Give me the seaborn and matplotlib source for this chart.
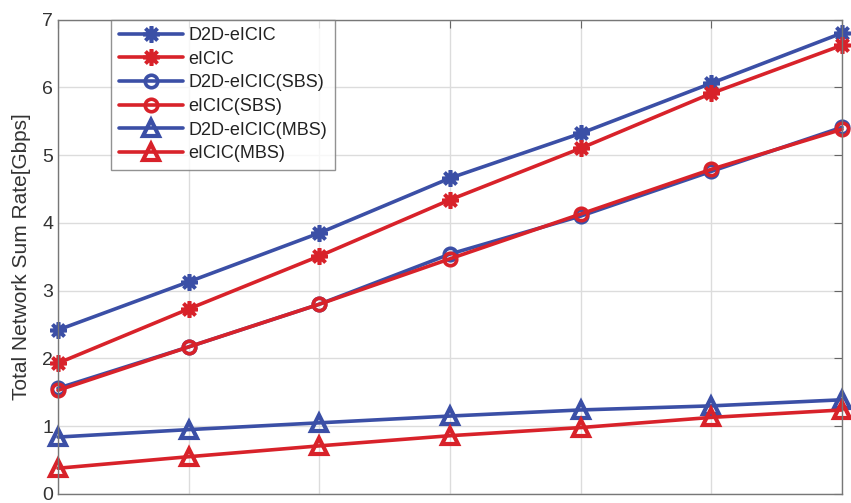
import matplotlib
matplotlib.use("Agg")
import matplotlib.pyplot as plt
import seaborn as sns
import pandas as pd

x_vals = [1, 2, 3, 4, 5, 6, 7]
d2d_eicic = [2.42, 3.13, 3.85, 4.66, 5.32, 6.06, 6.80]
eicic = [1.93, 2.73, 3.51, 4.34, 5.10, 5.91, 6.62]
d2d_eicic_sbs = [1.56, 2.17, 2.80, 3.54, 4.10, 4.76, 5.41]
eicic_sbs = [1.53, 2.17, 2.80, 3.47, 4.13, 4.79, 5.38]
d2d_eicic_mbs = [0.84, 0.95, 1.05, 1.15, 1.24, 1.30, 1.39]
eicic_mbs = [0.38, 0.55, 0.71, 0.86, 0.98, 1.13, 1.24]
labels = ["D2D-eICIC", "eICIC", "D2D-eICIC(SBS)", "eICIC(SBS)", "D2D-eICIC(MBS)", "eICIC(MBS)"]
y_label = "Total Network Sum Rate[Gbps]"

sns.set_style("white")
plt.rcParams['font.family'] = ['Liberation Sans', 'DejaVu Sans']

BLUE = "#3B4FA6"
RED = "#D8222A"
series = [d2d_eicic, eicic, d2d_eicic_sbs, eicic_sbs, d2d_eicic_mbs, eicic_mbs]
colors = [BLUE, RED, BLUE, RED, BLUE, RED]
markers = [(8, 2, 0), (8, 2, 0), "o", "o", "^", "^"]
msizes = [12, 12, 9, 9, 11, 11]

fig = plt.figure(figsize=(8.51, 5.03), dpi=100)
ax = fig.add_axes([58/851, 1-494/503, (842-58)/851, (494-19.5)/503])

for ys, lab, c, m, ms in zip(series, labels, colors, markers, msizes):
    df = pd.DataFrame({"x": x_vals, "y": ys})
    mfc = c if isinstance(m, tuple) else "none"
    sns.lineplot(data=df, x="x", y="y", ax=ax, color=c, linewidth=2.6,
                 marker=m, markersize=ms, markeredgewidth=2.6 if m != "^" else 3.0,
                 markerfacecolor=mfc, markeredgecolor=c, label=lab, clip_on=False)

ax.set_xlim(1, 7)
ax.set_ylim(0, 7)
ax.set_yticks(range(0, 8))
ax.set_xticks(x_vals)
ax.set_xticklabels([])
ax.set_xlabel("")
ax.set_ylabel(y_label, fontsize=15, color="#333333", labelpad=8)
ax.grid(True, color="#dcdcdc", linewidth=1.0)
ax.tick_params(axis="y", labelsize=14, labelcolor="#333333", direction="in", length=6, right=True, color="#666666")
ax.tick_params(axis="x", direction="in", length=6, top=True, color="#666666")
for s in ax.spines.values():
    s.set_color("#777777")
    s.set_linewidth(1.0)

leg = ax.legend(loc="upper left", bbox_to_anchor=(53/784, 1.0), fontsize=13, frameon=True,
                fancybox=False, edgecolor="#777777", handlelength=3.55, labelspacing=0.37,
                borderpad=0.42, handletextpad=0.33, borderaxespad=0)
leg.get_frame().set_linewidth(1.0)
for t in leg.get_texts():
    t.set_color("#222222")

fig.savefig("out.png", dpi=100)
